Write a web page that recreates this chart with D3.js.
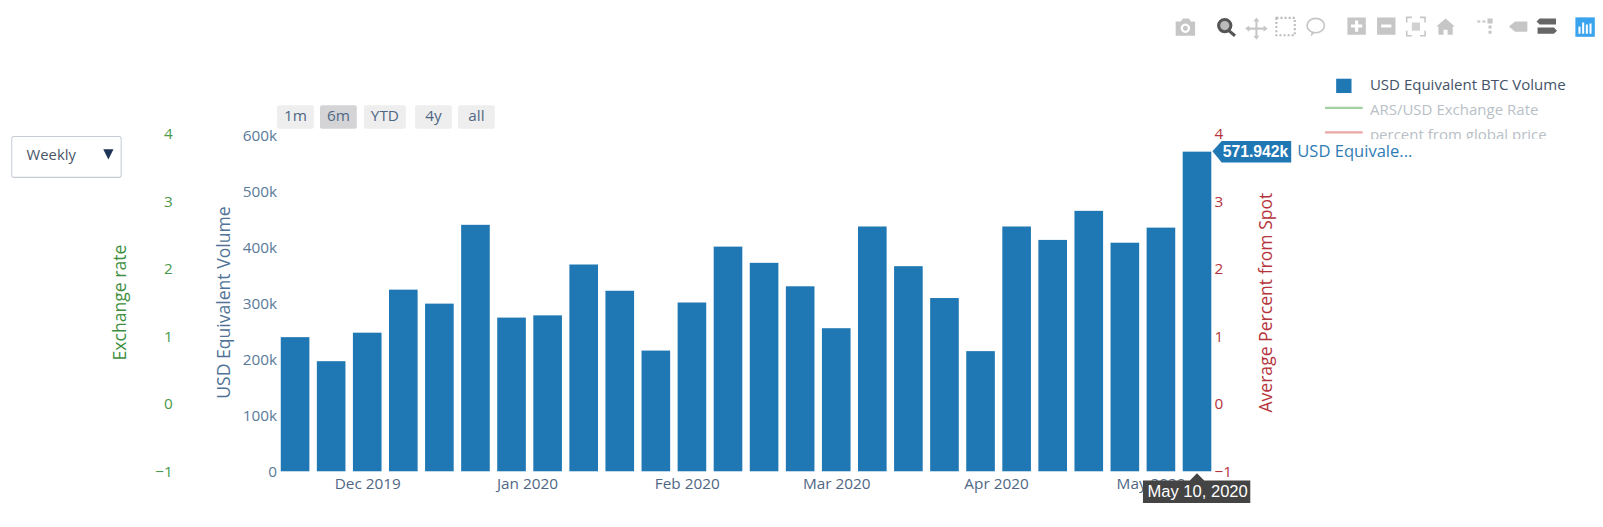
<!DOCTYPE html>
<html><head><meta charset="utf-8">
<script src="https://cdnjs.cloudflare.com/ajax/libs/d3/7.8.5/d3.min.js"></script>
<style>html,body{margin:0;padding:0;background:#fff}svg{display:block}text{font-family:"Open Sans",sans-serif}</style>
</head><body><svg id="c" width="1603" height="527" viewBox="0 0 1568 515.5"></svg>
<script>
const weekEnd = ["2019-11-17","2019-11-24","2019-12-01","2019-12-08","2019-12-15","2019-12-22","2019-12-29","2020-01-05","2020-01-12","2020-01-19","2020-01-26","2020-02-02","2020-02-09","2020-02-16","2020-02-23","2020-03-01","2020-03-08","2020-03-15","2020-03-22","2020-03-29","2020-04-05","2020-04-12","2020-04-19","2020-04-26","2020-05-03","2020-05-10"];
const usdVolume = [240000,197000,248000,325000,300000,441000,275000,279000,370000,323000,216000,302000,402000,373000,331000,256000,438000,367000,310000,215000,438000,414000,466000,409000,436000,571942];
const volumeTicks = [0,100000,200000,300000,400000,500000,600000];
const volumeLabels = ["0","100k","200k","300k","400k","500k","600k"];
const sideTicks = [-1,0,1,2,3,4];
const monthTicks = ["2019-12-01","2020-01-01","2020-02-01","2020-03-01","2020-04-01","2020-05-01"];
const monthLabels = ["Dec 2019","Jan 2020","Feb 2020","Mar 2020","Apr 2020","May 2020"];
const rangeButtons = ["1m","6m","YTD","4y","all"];
const legendNames = ["USD Equivalent BTC Volume","ARS/USD Exchange Rate","percent from global price"];

const parse = d3.utcParse("%Y-%m-%d");
const svg = d3.select("#c");
const DAY = 864e5;
const x = d3.scaleUtc()
  .domain([new Date(+parse(weekEnd[0]) - 3.0*DAY), new Date(+parse(weekEnd[25]) + 3.0*DAY)])
  .range([273.5, 1186]);
const y = d3.scaleLinear().domain([0,600000]).range([461,133]);
const ySide = d3.scaleLinear().domain([-1,4]).range([461,131]);
const barW = x(parse(weekEnd[1])) - x(parse(weekEnd[0])) - 7.3;

// bars
svg.append("g").selectAll("rect").data(usdVolume).join("rect")
  .attr("x",(d,i)=>x(parse(weekEnd[i]))-barW/2).attr("width",barW)
  .attr("y",d=>y(d)).attr("height",d=>y(0)-y(d)).attr("fill","#1f77b4");

function clean(g){g.select(".domain").remove();g.selectAll("line").remove();}
// axes
const gx = svg.append("g").attr("transform","translate(0,461)")
  .call(d3.axisBottom(x).tickValues(monthTicks.map(parse)).tickFormat((d,i)=>monthLabels[i]).tickSize(0).tickPadding(3));
clean(gx); gx.selectAll("text").attr("font-size",15).attr("fill","#506784").attr("dy","0.93em");
gx.attr("font-family",null);

const gy = svg.append("g").attr("transform","translate(271,0)")
  .call(d3.axisLeft(y).tickValues(volumeTicks).tickFormat((d,i)=>volumeLabels[i]).tickSize(0).tickPadding(0));
clean(gy); gy.attr("font-family",null).selectAll("text").attr("font-size",15).attr("fill","#5b7a9a");

const fmt = d=>d<0?"\u2212"+(-d):""+d;
const gl = svg.append("g").attr("transform","translate(169,0)")
  .call(d3.axisLeft(ySide).tickValues(sideTicks).tickFormat(fmt).tickSize(0).tickPadding(0));
clean(gl); gl.attr("font-family",null).selectAll("text").attr("font-size",15).attr("fill","#4c9a4c");

const gr = svg.append("g").attr("transform","translate(1188,0)")
  .call(d3.axisRight(ySide).tickValues(sideTicks).tickFormat(fmt).tickSize(0).tickPadding(0));
clean(gr); gr.attr("font-family",null).selectAll("text").attr("font-size",15).attr("fill","#b5343c");

// axis titles
function vtitle(cx,cy,t,c){svg.append("text").attr("transform",`translate(${cx},${cy}) rotate(-90)`)
  .attr("text-anchor","middle").attr("dominant-baseline","central").attr("font-size",17.2).attr("fill",c).text(t);}
vtitle(116,296,"Exchange rate","#3f8f3f");
vtitle(218,296,"USD Equivalent Volume","#4f7396");
vtitle(1237,296,"Average Percent from Spot","#b5343c");

// range buttons
const btnX=[271,313,356,406,448], btnW=[36,36,41,36,36];
rangeButtons.forEach((t,i)=>{
  svg.append("rect").attr("x",btnX[i]).attr("y",103).attr("width",btnW[i]).attr("height",23).attr("rx",2)
    .attr("fill",i===1?"#d4d4d6":"#eeeeef");
  svg.append("text").attr("x",btnX[i]+btnW[i]/2).attr("y",118.5).attr("text-anchor","middle")
    .attr("font-size",15).attr("fill","#506784").text(t);
});

// dropdown
svg.append("rect").attr("x",11.5).attr("y",133.5).attr("width",107).attr("height",40).attr("rx",2)
  .attr("fill","#fff").attr("stroke","#c5ccd4");
svg.append("text").attr("x",26).attr("y",156.5).attr("font-size",14.5).attr("fill","#4a5568").text("Weekly");
svg.append("path").attr("d","M101,146h10l-5,10z").attr("fill","#1f3355");

// legend
const lg = svg.append("g");
lg.append("rect").attr("x",1307).attr("y",77).attr("width",15).attr("height",14).attr("fill","#1f77b4");
lg.append("line").attr("x1",1296).attr("x2",1333).attr("y1",105.5).attr("y2",105.5).attr("stroke","#a5d0a5").attr("stroke-width",2);
lg.append("line").attr("x1",1296).attr("x2",1333).attr("y1",129.5).attr("y2",129.5).attr("stroke","#eca6a6").attr("stroke-width",2);
[0,1,2].forEach(i=>lg.append("text").attr("x",1340).attr("y",88.5+24*i).attr("font-size",14.7)
  .attr("fill",i?"#b9bfc6":"#445368").text(legendNames[i]));
// the hover layer's white backing trims the bottom of the third legend row
svg.append("rect").attr("x",1265).attr("y",136).attr("width",260).attr("height",24).attr("fill","#fff");

// hover label, value
const lastX = x(parse(weekEnd[25]));
svg.append("path").attr("d",`M1186,148l9,-10h68v21h-68z`).attr("fill","#1f77b4");
svg.append("text").attr("x",1196).attr("y",154).attr("font-weight",700).attr("font-size",15.4)
  .attr("fill","#fff").style("font-family","Liberation Sans, Arial").text("571.942k");
svg.append("text").attr("x",1269).attr("y",154).attr("font-size",16.2).attr("fill","#2f7cb4").text("USD Equivale...");
// hover label, date
svg.append("path").attr("d",`M${lastX},463l7,7H1223v22H1118v-22H${lastX-7}z`).attr("fill","#444");
svg.append("text").attr("x",1171.5).attr("y",486.5).attr("text-anchor","middle").attr("font-size",16.2)
  .attr("fill","#fff").style("font-family","Liberation Sans, Arial").text("May 10, 2020");

// modebar
const mb = svg.append("g").attr("fill","#c6c6c6");
mb.append("path").attr("fill-rule","evenodd").attr("d","M1150,21h5l2,-3h6l2,3h4v14h-19z M1159.5,23a4.6,4.6 0 1,0 .01,0z M1159.5,25.2a2.4,2.4 0 1,1 -.01,0z");
mb.append("circle").attr("cx",1198).attr("cy",25).attr("r",6).attr("fill","#bbb").attr("stroke","#555").attr("stroke-width",3);
mb.append("line").attr("x1",1202).attr("y1",30).attr("x2",1208).attr("y2",35).attr("stroke","#555").attr("stroke-width",3);
mb.append("path").attr("d","M1229,17l3,4h-2v6h6v-2l4,3l-4,3v-2h-6v6h2l-3,4l-3,-4h2v-6h-6v2l-4,-3l4,-3v2h6v-6h-2z");
mb.append("rect").attr("x",1248.5).attr("y",17.5).attr("width",18).attr("height",17).attr("fill","none").attr("stroke","#bbb").attr("stroke-width",2).attr("stroke-dasharray","2 2");
mb.append("ellipse").attr("cx",1287).attr("cy",25).attr("rx",8.5).attr("ry",7).attr("fill","none").attr("stroke","#c6c6c6").attr("stroke-width",1.6);
mb.append("path").attr("d","M1283,31l-1,5l4,-4z");
mb.append("path").attr("fill-rule","evenodd").attr("d","M1318,17h18v17h-18z M1325.5,20v4h-4v3h4v4h3v-4h4v-3h-4v-4z");
mb.append("path").attr("fill-rule","evenodd").attr("d","M1347,17h18v17h-18z M1351,24v3h10v-3z");
mb.append("path").attr("fill","none").attr("stroke","#c6c6c6").attr("stroke-width",1.5).attr("d","M1376,22v-5h5 M1389,17h5v5 M1394,30v5h-5 M1381,35h-5v-5");
mb.append("path").attr("d","M1381,22h8v8h-8z").attr("opacity",.8);
mb.append("path").attr("d","M1414,18l9,8h-2v8h-5v-5h-4v5h-5v-8h-2z");
mb.append("path").attr("d","M1445,20h3v2h-3z M1450,20h3v2h-3z M1455,18h5v5h-5z M1456,25h3v3h-3z M1456,30h3v3h-3z");
mb.append("path").attr("d","M1476,26l6,-5h12v10h-12z");
mb.append("path").attr("fill","#666").attr("d","M1506,18h16v6h-16l-3,-3z M1504,27h16l3,3l-3,3h-16z");
svg.append("rect").attr("x",1541).attr("y",17).attr("width",19).attr("height",19).attr("fill","#3aa3ee");
svg.append("g").attr("fill","#fff").selectAll("rect").data([0,1,2,3]).join("rect")
  .attr("x",i=>1544+i*3.6).attr("y",i=>[26,22,24,23][i]).attr("width",2).attr("height",i=>33-[26,22,24,23][i]);
</script></body></html>
